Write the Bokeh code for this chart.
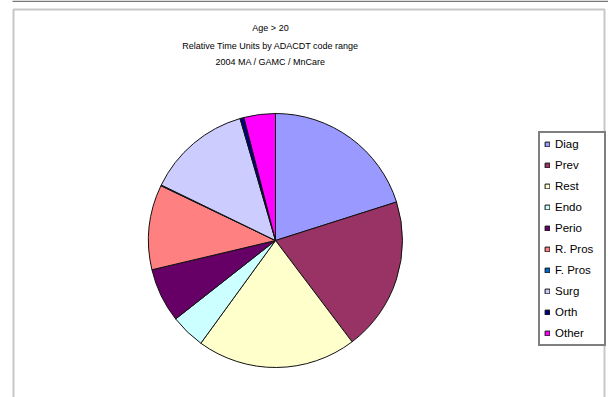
import numpy as np
from bokeh.plotting import figure
from bokeh.models import ColumnDataSource, Range1d, BoxAnnotation
from bokeh.core.properties import value
from bokeh.embed import file_html
from bokeh.resources import INLINE

# ---- data ----
categories = ["Diag", "Prev", "Rest", "Endo", "Perio", "R. Pros", "F. Pros", "Surg", "Orth", "Other"]
shares = [20.1, 19.6, 20.3, 4.4, 6.9, 10.8, 0.1, 13.3, 0.5, 4.0]
colors = ["#9999FF", "#993366", "#FFFFCC", "#CCFFFF", "#660066",
          "#FF8080", "#0066CC", "#CCCCFF", "#000080", "#FF00FF"]
title_lines = ["Age > 20", "Relative Time Units by ADACDT code range", "2004 MA / GAMC / MnCare"]

W, H = 608, 397
vals = np.array(shares, dtype=float)
frac = vals / vals.sum()
cum = np.concatenate([[0.0], np.cumsum(frac)])
start = np.pi / 2 - 2 * np.pi * cum[:-1]
end = np.pi / 2 - 2 * np.pi * cum[1:]

src = ColumnDataSource(dict(cat=categories, start=start, end=end, color=colors))

p = figure(width=W, height=H, output_backend="svg", toolbar_location=None,
           x_range=Range1d(0, W), y_range=Range1d(0, H),
           x_axis_type=None, y_axis_type=None, min_border=0)
p.grid.visible = False
p.outline_line_color = None
p.background_fill_color = "white"

# frame decorations
p.add_layout(BoxAnnotation(left=12, right=W, top=H, bottom=H - 1.5, fill_color="#777777",
                           fill_alpha=1, line_color=None))
p.add_layout(BoxAnnotation(left=13, right=604, top=H - 9, bottom=-20, fill_color=None,
                           line_color="#444444", line_width=2))

cx, cy, r = 275, H - 240, 127
p.wedge(x=cx, y=cy, radius=r, start_angle="start", end_angle="end", direction="clock",
        fill_color="color", line_color="#111111", line_width=1, source=src,
        legend_field="cat")

# title
tsrc = ColumnDataSource(dict(x=[270, 270, 270], y=[H - 27, H - 45, H - 61], t=title_lines))
p.text(x="x", y="y", text="t", source=tsrc, text_align="center", text_baseline="middle",
       text_font=value("Liberation Sans"), text_font_size="9px", text_color="black")

p.legend.location = (538, H - 346)
p.legend.border_line_color = "black"
p.legend.border_line_width = 2
p.legend.background_fill_color = "white"
p.legend.background_fill_alpha = 1
p.legend.padding = 4
p.legend.margin = 0
p.legend.spacing = 7
p.legend.glyph_width = 6
p.legend.glyph_height = 6
p.legend.label_height = 14
p.legend.label_width = 45
p.legend.label_standoff = 5
p.legend.label_text_font = "Liberation Sans"
p.legend.label_text_font_size = "11.5px"
p.legend.label_text_color = "black"

open("out.html", "w").write(file_html(p, INLINE))
